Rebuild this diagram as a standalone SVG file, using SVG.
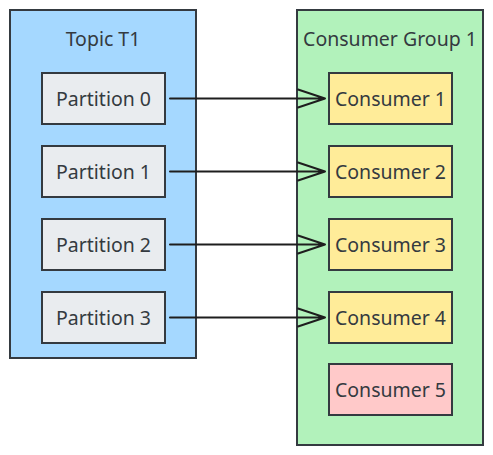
<svg xmlns="http://www.w3.org/2000/svg" width="493" height="455" viewBox="0 0 493 455">
<style>
.box{stroke:#343a40;stroke-width:2}
.part{fill:#e9ecef}
.cons{fill:#ffec99}
.idle{fill:#ffc9c9}
text{font-family:"Noto Sans","Open Sans",sans-serif;font-size:19.5px;fill:#343a40;text-anchor:middle;dominant-baseline:central}
.edge{stroke:#1e1e1e;stroke-width:2;fill:none;stroke-linecap:round;stroke-linejoin:round}
</style>
<rect width="493" height="455" fill="#ffffff"/>
<g id="topic">
<rect class="box" x="10" y="10" width="186" height="348" fill="#a5d8ff"/>
<text x="103" y="38.5">Topic T1</text>
</g>
<g id="group">
<rect class="box" x="297" y="10" width="186" height="435" fill="#b2f2bb"/>
<text x="390" y="38.5">Consumer Group 1</text>
</g>
<g id="p0"><rect class="box part" x="42" y="73" width="123" height="51"/><text x="103.5" y="98">Partition 0</text></g>
<g id="p1"><rect class="box part" x="42" y="146" width="123" height="51"/><text x="103.5" y="171">Partition 1</text></g>
<g id="p2"><rect class="box part" x="42" y="219" width="123" height="51"/><text x="103.5" y="244">Partition 2</text></g>
<g id="p3"><rect class="box part" x="42" y="292" width="123" height="51"/><text x="103.5" y="317">Partition 3</text></g>
<g id="c1"><rect class="box cons" x="329" y="73" width="123" height="51"/><text x="390.5" y="98">Consumer 1</text></g>
<g id="c2"><rect class="box cons" x="329" y="146" width="123" height="51"/><text x="390.5" y="171">Consumer 2</text></g>
<g id="c3"><rect class="box cons" x="329" y="219" width="123" height="51"/><text x="390.5" y="244">Consumer 3</text></g>
<g id="c4"><rect class="box cons" x="329" y="292" width="123" height="51"/><text x="390.5" y="317">Consumer 4</text></g>
<g id="c5"><rect class="box idle" x="329" y="364" width="123" height="51"/><text x="390.5" y="389">Consumer 5</text></g>
<g id="connectors">
<path class="edge" d="M170 98.5H325M298 89.5L325 98.5L298 107.5"/>
<path class="edge" d="M170 171.5H325M298 162.5L325 171.5L298 180.5"/>
<path class="edge" d="M170 244.5H325M298 235.5L325 244.5L298 253.5"/>
<path class="edge" d="M170 317.5H325M298 308.5L325 317.5L298 326.5"/>
</g>
</svg>
